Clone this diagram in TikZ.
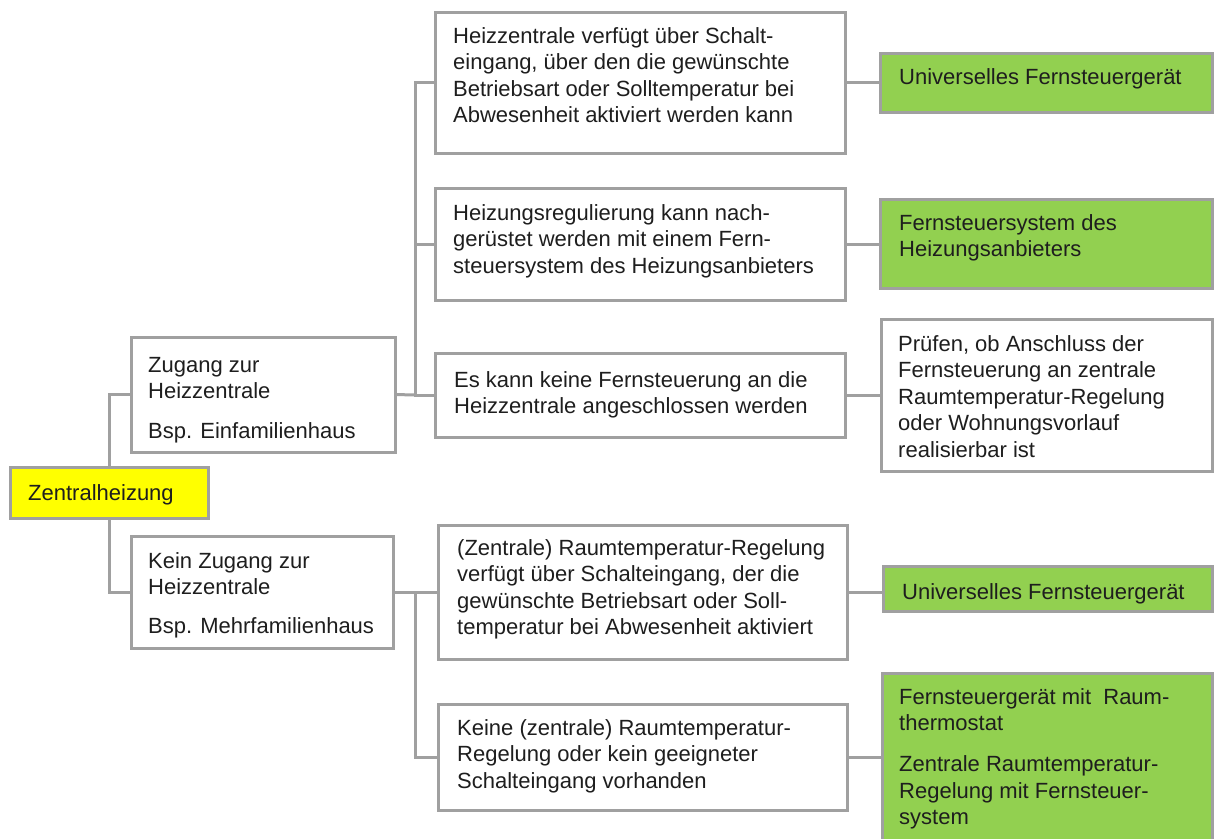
\documentclass[tikz,border=0pt]{standalone}
\usepackage{fontspec}
\setmainfont{Liberation Sans}
\definecolor{bordergray}{RGB}{160,160,160}
\definecolor{boxgreen}{RGB}{146,208,80}
\definecolor{boxyellow}{RGB}{255,255,0}
\definecolor{txtcol}{RGB}{30,30,30}
\tikzset{
  boxbase/.style={draw=bordergray, line width=3pt, rectangle, inner sep=0pt, outer sep=0pt},
  whitebox/.style={boxbase, fill=white},
  greenbox/.style={boxbase, fill=boxgreen},
  yellowbox/.style={boxbase, fill=boxyellow},
  txt/.style={anchor=north west, inner sep=0pt, align=left, text=txtcol,
    font=\fontsize{22}{26.5}\selectfont},
  conn/.style={draw=bordergray, line width=3pt}
}
\newcommand\mkbox[6]{%
  \node[#2, anchor=north west, minimum width={(#5-#3)*1pt}, minimum height={(#6-#4)*1pt}] (#1) at (#3,#4) {};}
\newcommand\mktext[4]{%
  \node[txt] (#1) at (#2,#3-18.55) {\strut #4};}
\begin{document}
\begin{tikzpicture}[x=1pt,y=-1pt]
\useasboundingbox (0,0) rectangle (1214,838);
% boxes
\mkbox{zh}{yellowbox}{10}{467}{208}{518}
\mkbox{zug}{whitebox}{131}{337}{395}{452}
\mkbox{kein}{whitebox}{131}{536}{393}{648}
\mkbox{a1}{whitebox}{435}{12}{845}{153}
\mkbox{a2}{whitebox}{435}{188}{845}{300}
\mkbox{a3}{whitebox}{435}{353}{845}{437}
\mkbox{b1}{whitebox}{438}{525}{847}{659}
\mkbox{b2}{whitebox}{438}{704}{847}{810}
\mkbox{g1}{greenbox}{880}{53}{1212}{112}
\mkbox{g2}{greenbox}{880}{199}{1212}{288}
\mkbox{w3}{whitebox}{881}{319}{1212}{471}
\mkbox{g4}{greenbox}{883}{566}{1212}{611}
\mkbox{g5}{greenbox}{882}{673}{1212}{870}
% texts
\mktext{zht}{28}{500}{Zentralheizung}
\mktext{zugt}{148}{372}{Zugang zur\\Heizzentrale\\[13.5pt]Bsp. Einfamilienhaus}
\mktext{keint}{148}{568}{Kein Zugang zur\\Heizzentrale\\[12.5pt]Bsp. Mehrfamilienhaus}
\mktext{a1t}{453}{43}{Heizzentrale verfügt über Schalt-\\eingang, über den die gewünschte\\Betriebsart oder Solltemperatur bei\\Abwesenheit aktiviert werden kann}
\mktext{a2t}{453}{220}{Heizungsregulierung kann nach-\\gerüstet werden mit einem Fern-\\steuersystem des Heizungsanbieters}
\mktext{a3t}{454}{387}{Es kann keine Fernsteuerung an die\\Heizzentrale angeschlossen werden}
\mktext{b1t}{457}{555}{(Zentrale) Raumtemperatur-Regelung\\verfügt über Schalteingang, der die\\gewünschte Betriebsart oder Soll-\\temperatur bei Abwesenheit aktiviert}
\mktext{b2t}{457}{735}{Keine (zentrale) Raumtemperatur-\\Regelung oder kein geeigneter\\Schalteingang vorhanden}
\mktext{g1t}{899}{84}{Universelles Fernsteuergerät}
\mktext{g2t}{899}{230}{Fernsteuersystem des\\Heizungsanbieters}
\mktext{w3t}{898}{351}{Prüfen, ob Anschluss der\\Fernsteuerung an zentrale\\Raumtemperatur-Regelung\\oder Wohnungsvorlauf\\realisierbar ist}
\mktext{g4t}{902}{599}{Universelles Fernsteuergerät}
\mktext{g5t}{899}{704}{Fernsteuergerät mit\ \ Raum-\\thermostat\\[14.5pt]Zentrale Raumtemperatur-\\Regelung mit Fernsteuer-\\system}
% connectors
\coordinate (busA) at (415,395);
\coordinate (busB) at (415,592);
\path[conn] (zh.north) |- (zug.west);
\path[conn] (zh.south) |- (kein.west);
\path[conn] (zug.east) -- (busA);
\path[conn] (a1.west) -| (busA) |- (a3.west);
\path[conn] (a2.west) -- (a2.west -| busA);
\path[conn] (kein.east) -- (busB);
\path[conn] (b1.west) -| (busB) |- (b2.west);
\path[conn] (a1.east) -- (a1.east -| g1.west);
\path[conn] (a2.east) -- (a2.east -| g2.west);
\path[conn] (a3.east) -- (a3.east -| w3.west);
\path[conn] (b1.east) -- (b1.east -| g4.west);
\path[conn] (b2.east) -- (b2.east -| g5.west);
\end{tikzpicture}
\end{document}
